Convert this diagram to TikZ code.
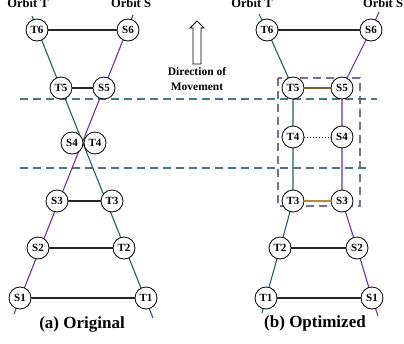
\documentclass[tikz,border=0pt]{standalone}
\usepackage{fontspec}
\setmainfont{Liberation Serif}
\usepackage{tikz}
\usetikzlibrary{positioning,calc,arrows.meta,backgrounds}
\definecolor{orbitT}{RGB}{30,95,110}
\definecolor{orbitS}{RGB}{112,48,160}
\definecolor{linkA}{RGB}{125,95,45}
\definecolor{linkB}{RGB}{175,140,60}
\definecolor{zoneline}{RGB}{70,118,135}
\definecolor{boxline}{RGB}{125,108,150}
\tikzstyle{sat} = [circle,draw,line width=0.8pt,fill=white,minimum size=22pt,inner sep=0pt,font=\fontsize{11}{12}\selectfont\bfseries]
\tikzstyle{link} = [draw,line width=1.4pt,black!85]
\tikzstyle{orbT} = [draw=orbitT,line width=1.1pt]
\tikzstyle{orbS} = [draw=orbitS,line width=1.1pt]
\tikzstyle{zone} = [draw=zoneline,line width=1.3pt,dash pattern=on 8pt off 5pt]
\tikzstyle{title} = [font=\fontsize{12.5}{14}\selectfont\bfseries,anchor=base]
\tikzstyle{caption} = [font=\fontsize{17}{19}\selectfont\bfseries]
\begin{document}
\begin{tikzpicture}[x=1pt,y=-1pt]
            \useasboundingbox (0,0) rectangle (404,343);
            % (a) original
            \coordinate (aTtop) at (32,16);
            \coordinate (aTbot) at (153,318);
            \coordinate (aStop) at (133,15);
            \coordinate (aSbot) at (14,314);
            \path[orbT] (aTtop) -- (aTbot);
            \path[orbS] (aStop) -- (aSbot);
            \node[sat] (aT6) at (37,30) {T6};
            \node[sat] (aS6) at (128,30) {S6};
            \node[sat] (aT5) at (61,88) {T5};
            \node[sat] (aS5) at (104,88) {S5};
            \node[sat] (aS4) at (72,143) {S4};
            \node[sat] (aT4) at (95,143) {T4};
            \node[sat] (aS3) at (57,201) {S3};
            \node[sat] (aT3) at (112,201) {T3};
            \node[sat] (aS2) at (38,248) {S2};
            \node[sat] (aT2) at (124,248) {T2};
            \node[sat] (aS1) at (20,298) {S1};
            \node[sat] (aT1) at (146,298) {T1};
            \path[link] (aT6) -- (aS6);
            \path[link] (aT5) -- (aS5);
            \path[link] (aS3) -- (aT3);
            \path[link] (aS2) -- (aT2);
            \path[link] (aS1) -- (aT1);
            \node[title] (aOT) at (28,7.5) {Orbit T};
            \node[title] (aOS) at (131,7.5) {Orbit S};
            \node[caption] (acap) at (82,324) {(a) Original};
            % direction
            \draw[line width=0.8pt,fill=white] (193,64) -- (193,28) -- (190,28) -- (197,21) -- (204,28) -- (201,28) -- (201,64) -- cycle;
            \node[align=center,font=\fontsize{11.5}{15}\selectfont\bfseries] (dir) at (197,79) {Direction of\\Movement};
            % (b) optimized
            \coordinate (bTtop) at (259,14);
            \coordinate (bTbot) at (262,313);
            \coordinate (bStop) at (379,12);
            \coordinate (bSbot) at (378,316);
            \node[sat] (bT6) at (267,30) {T6};
            \node[sat] (bS6) at (371,30) {S6};
            \node[sat] (bT5) at (293,88) {T5};
            \node[sat] (bS5) at (342,88) {S5};
            \node[sat] (bT4) at (293,137) {T4};
            \node[sat] (bS4) at (342,137) {S4};
            \node[sat] (bT3) at (293,201) {T3};
            \node[sat] (bS3) at (342,201) {S3};
            \node[sat] (bT2) at (280,248) {T2};
            \node[sat] (bS2) at (357,248) {S2};
            \node[sat] (bT1) at (266,298) {T1};
            \node[sat] (bS1) at (372,298) {S1};
            \path[link] (bT6) -- (bS6);
            \path[link,draw=linkA] (bT5) -- (bS5);
            \path[draw,line width=0.9pt,dotted] (bT4) -- (bS4);
            \path[link,draw=linkB] (bT3) -- (bS3);
            \path[link] (bT2) -- (bS2);
            \path[link] (bT1) -- (bS1);
            \node[title] (bOT) at (252,7.5) {Orbit T};
            \node[title] (bOS) at (383,7.5) {Orbit S};
            \node[caption] (bcap) at (315,323) {(b) Optimized};
            \begin{pgfonlayer}{background}
                \path[orbT] (bTtop) -- (bT6.center) -- (bT5.center) -- (bT4.center) -- (bT3.center) -- (bT2.center) -- (bT1.center) -- (bTbot);
                \path[orbS] (bStop) -- (bS6.center) -- (bS5.center) -- (bS4.center) -- (bS3.center) -- (bS2.center) -- (bS1.center) -- (bSbot);
                \path[zone,draw=boxline] (278,78) rectangle (360,206);
                \path[zone] (20,99) -- (377,99);
                \path[zone] (20,168) -- (368,168);
            \end{pgfonlayer}
\end{tikzpicture}
\end{document}
